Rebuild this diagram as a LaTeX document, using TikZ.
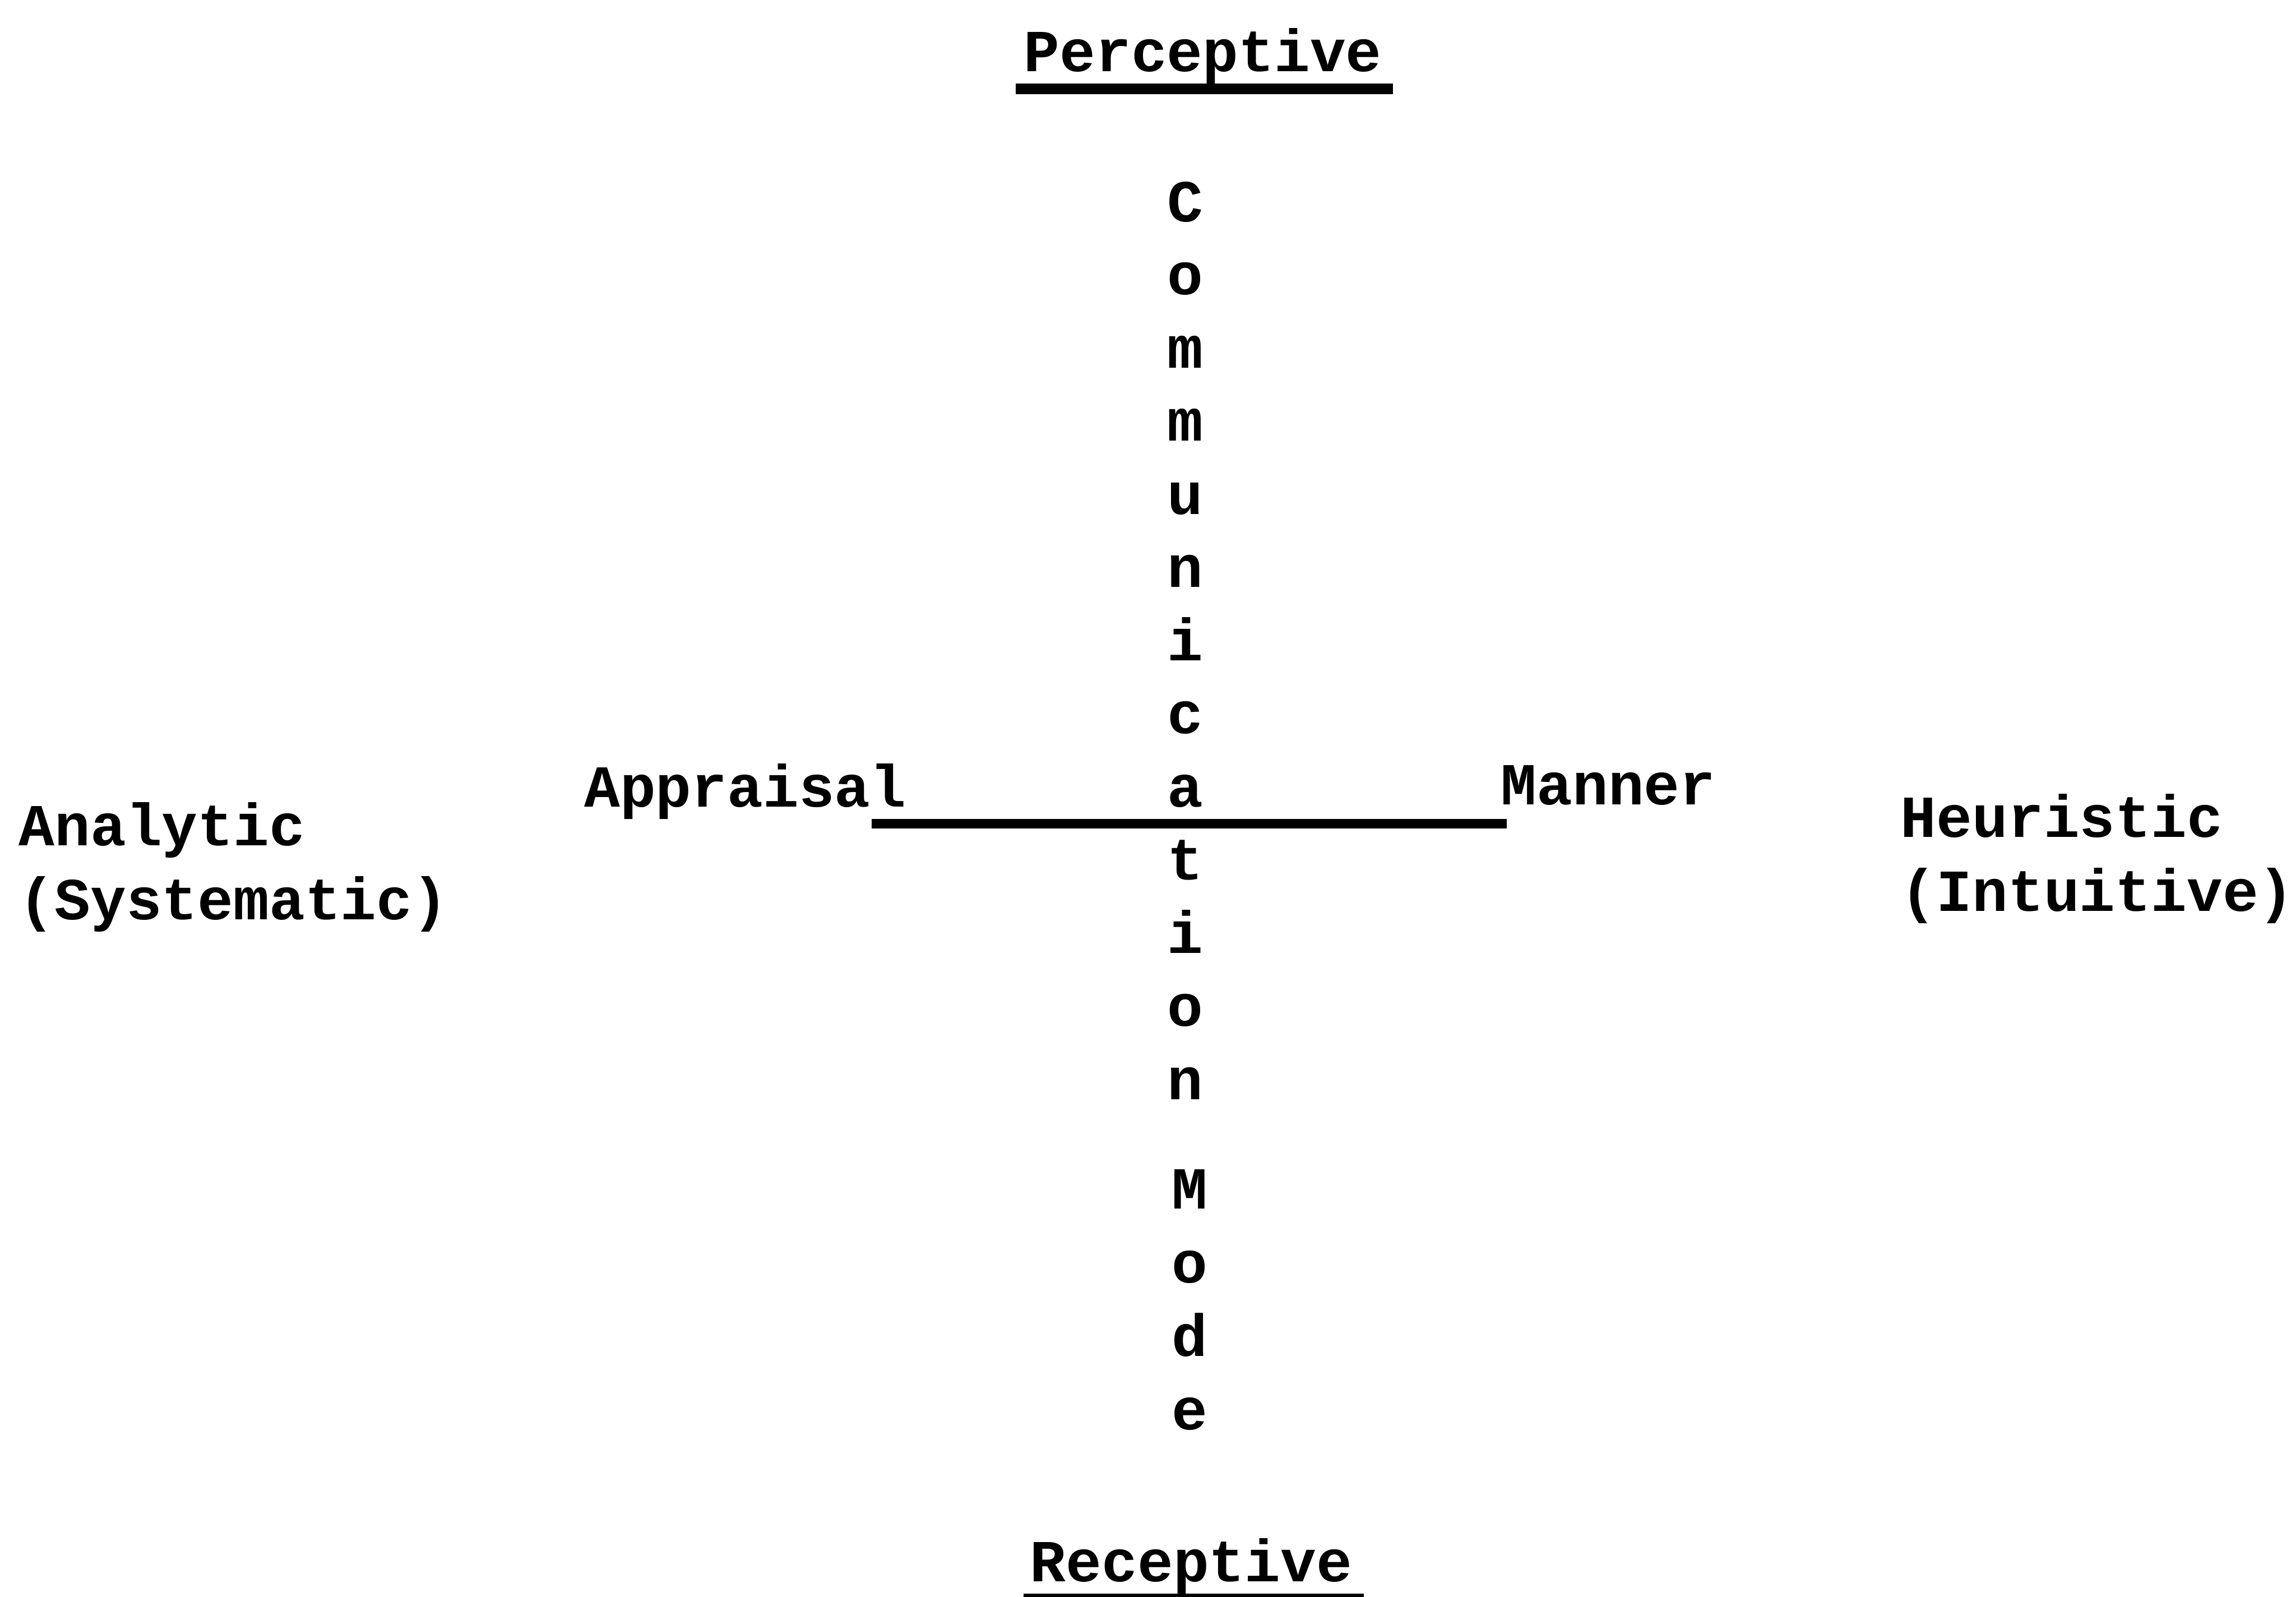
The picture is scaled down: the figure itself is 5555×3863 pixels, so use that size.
\documentclass[tikz,border=0pt]{standalone}
\usepackage{fontspec}
\setmonofont{Liberation Mono}
\begin{document}
\begin{tikzpicture}[x=0.01cm,y=-0.01cm,
  lbl/.style={font=\ttfamily\bfseries\fontsize{41}{51}\selectfont, inner sep=0pt, anchor=base},
  twoline/.style={lbl, anchor=base west, align=left},
  rulebar/.style={line width=6.5pt, black},
  underbar/.style={line width=7pt, black}]
\useasboundingbox (0,0) rectangle (5555,3863);
\clip (0,0) rectangle (5555,3863);

% top and bottom poles
\node[lbl] (perc) at (2910,173) {Perceptive};
\coordinate (percL) at (2457,215);
\coordinate (percR) at (3370,215);
\draw[underbar] (percL) -- (percR);

\node[lbl] (rec) at (2882,3827) {Receptive};
\coordinate (recL) at (2477,3868);
\coordinate (recR) at (3299,3868);
\draw[underbar] (recL) -- (recR);

% vertical axis label
\foreach \ch [count=\i from 0] in {C,o,m,m,u,n,i,c,a,t,i,o,n}
  \node[lbl] (cm\i) at (2868,{1952+(\i-8)*177}) {\ch};
\foreach \ch [count=\i from 0] in {M,o,d,e}
  \node[lbl] (md\i) at (2879,{2925+\i*178}) {\ch};

% horizontal axis
\node[lbl] (appr) at (1803,1952) {Appraisal};
\node[lbl] (mann) at (3891,1947) {Manner};
\coordinate (hL) at (2109,1993);
\coordinate (hR) at (3646,1993);
\draw[rulebar] (hL) -- (hR);

% side poles (base anchor = baseline of the last line)
\node[twoline] (anal) at (45,2225) {Analytic\\(Systematic)};
\node[twoline] (heur) at (4598,2205) {Heuristic\\(Intuitive)};
\end{tikzpicture}
\end{document}
